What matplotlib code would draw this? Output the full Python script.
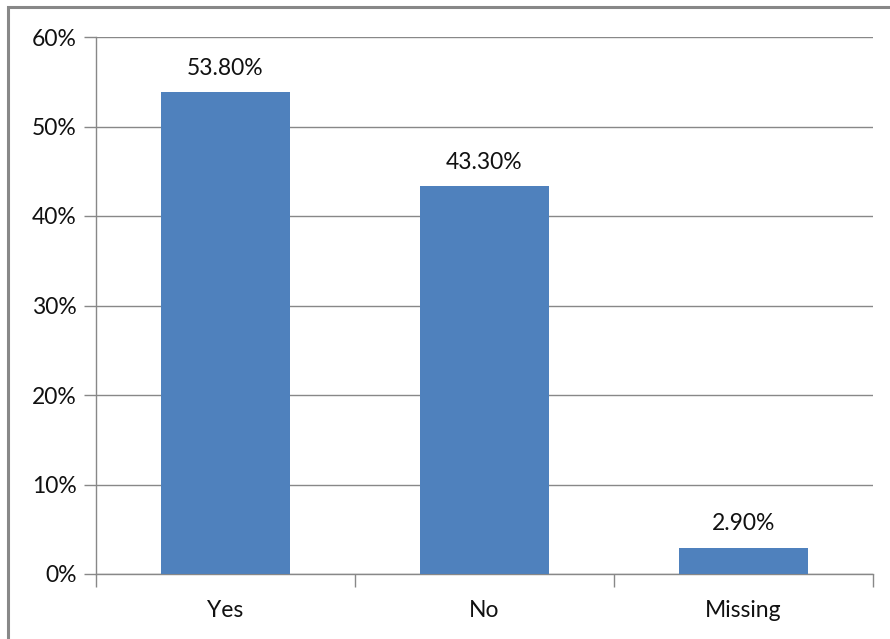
import matplotlib
matplotlib.use("Agg")
import matplotlib.pyplot as plt
from matplotlib.patches import Rectangle

categories = ["Yes", "No", "Missing"]
values = [53.8, 43.3, 2.9]
value_labels = ["53.80%", "43.30%", "2.90%"]
y_ticks = [0, 10, 20, 30, 40, 50, 60]
y_tick_labels = ["0%", "10%", "20%", "30%", "40%", "50%", "60%"]

plt.rcParams["font.family"] = ["Lato", "DejaVu Sans"]

W, H = 890, 639
fig = plt.figure(figsize=(W / 100, H / 100), dpi=100)
fig.patch.set_facecolor("white")

# outer chart frame
fig.patches.append(Rectangle((8 / W, -0.05), 1.1, 1 - 7 / H + 0.05,
                             transform=fig.transFigure, fill=False,
                             edgecolor="#888888", linewidth=2.2, zorder=0))

left, right, top, bottom = 96, 873, 37, 574
ax = fig.add_axes([left / W, 1 - bottom / H, (right - left) / W, (bottom - top) / H])

grid_col = "#888888"
text_col = "#111111"
fs = 16.5
x = list(range(len(categories)))
ax.bar(x, values, width=0.5, color="#4F81BD", zorder=3)
ax.set_xlim(-0.5, len(categories) - 0.5)
ax.set_ylim(0, 60)

ax.set_yticks(y_ticks)
ax.set_yticklabels(y_tick_labels, fontsize=fs, color=text_col)
ax.yaxis.grid(True, color=grid_col, linewidth=1.0, zorder=0)
ax.set_axisbelow(True)

ax.set_xticks(x)
ax.set_xticklabels(categories, fontsize=fs, color=text_col)
ax.tick_params(axis="x", length=0, pad=19)
ax.tick_params(axis="y", length=9, color=grid_col, width=1.0, pad=5)

# category boundary ticks below the x axis
ax.set_xticks([-0.5 + i for i in range(len(categories) + 1)], minor=True)
ax.tick_params(axis="x", which="minor", length=9, color=grid_col, width=1.0)

for s in ["top", "right"]:
    ax.spines[s].set_visible(False)
for s in ["left", "bottom"]:
    ax.spines[s].set_color(grid_col)
    ax.spines[s].set_linewidth(1.0)

for xi, v, lab in zip(x, values, value_labels):
    ax.annotate(lab, (xi, v), xytext=(0, 10), textcoords="offset points",
                ha="center", va="bottom", fontsize=fs, color=text_col)

fig.savefig("out.png", dpi=100)
